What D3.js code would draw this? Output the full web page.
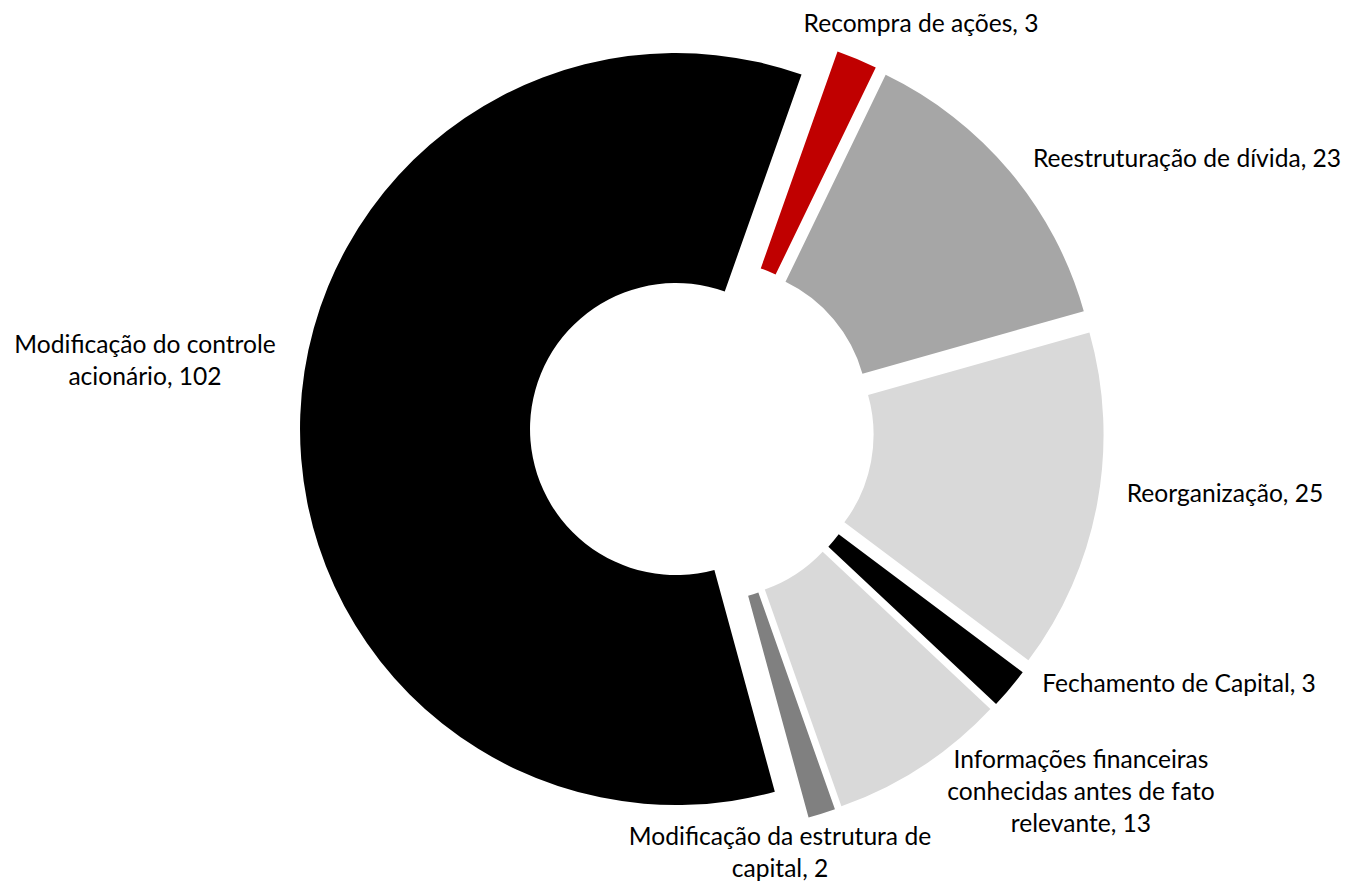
<!DOCTYPE html>
<html>
<head>
<meta charset="utf-8">
<script src="https://cdn.jsdelivr.net/npm/d3@7"></script>
<style>
  body { margin: 0; background: #fff; }
  text { font-family: Lato, "Open Sans", sans-serif; fill: #000; }
</style>
</head>
<body>
<svg id="chart" width="1346" height="893"></svg>
<script>
// data, in slice order (clockwise from the first slice)
var categories = ["Recompra de ações", "Reestruturação de dívida", "Reorganização",
                  "Fechamento de Capital", "Informações financeiras conhecidas antes de fato relevante",
                  "Modificação da estrutura de capital", "Modificação do controle acionário"];
var values = [3, 23, 25, 3, 13, 2, 102];
var colors = ["#C00000", "#A6A6A6", "#D9D9D9", "#000000", "#D9D9D9", "#808080", "#000000"];
// label lines as they wrap in the chart
var labelLines = [
    ["Recompra de ações, 3"],
    ["Reestruturação de dívida, 23"],
    ["Reorganização, 25"],
    ["Fechamento de Capital, 3"],
    ["Informações financeiras", "conhecidas antes de fato", "relevante, 13"],
    ["Modificação da estrutura de", "capital, 2"],
    ["Modificação do controle", "acionário, 102"]
];

function render() {
    var svg = d3.select("#chart");
    var cx = 702, cy = 430;
    var outerR = 376, innerR = 146;
    var explode = 26;
    var start = 19.5 * Math.PI / 180;

    var rows = categories.map(function(c, i) {
        return {name: c, value: values[i], color: colors[i], lines: labelLines[i]};
    });

    var pie = d3.pie()
        .sort(null)
        .value(function(d) { return d.value; })
        .startAngle(start)
        .endAngle(start + 2 * Math.PI);

    var arc = d3.arc().innerRadius(innerR).outerRadius(outerR);

    var g = svg.append("g").attr("transform", "translate(" + cx + "," + cy + ")");

    g.selectAll("path")
        .data(pie(rows))
        .enter()
        .append("path")
            .attr("d", arc)
            .attr("fill", function(d) { return d.data.color; })
            .attr("transform", function(d) {
                var mid = (d.startAngle + d.endAngle) / 2;
                return "translate(" + (Math.sin(mid) * explode) + "," + (-Math.cos(mid) * explode) + ")";
            });

    // label spots (centre x, first baseline), placed like the best-fit labels
    var labelPos = [
        [921, 32], [1187, 167], [1225, 502], [1179, 692],
        [1081, 768], [780, 845], [145, 353]
    ];
    var lineH = 32;

    svg.append("g")
        .selectAll("text")
        .data(rows)
        .enter()
        .append("text")
            .attr("text-anchor", "middle")
            .attr("font-size", "24.6px")
            .attr("x", function(d, i) { return labelPos[i][0]; })
            .attr("y", function(d, i) { return labelPos[i][1]; })
            .each(function(d, i) {
                var t = d3.select(this);
                d.lines.forEach(function(line, j) {
                    t.append("tspan")
                        .attr("x", labelPos[i][0])
                        .attr("dy", j == 0 ? 0 : lineH)
                        .text(line);
                });
            });
}

render();
</script>
</body>
</html>
